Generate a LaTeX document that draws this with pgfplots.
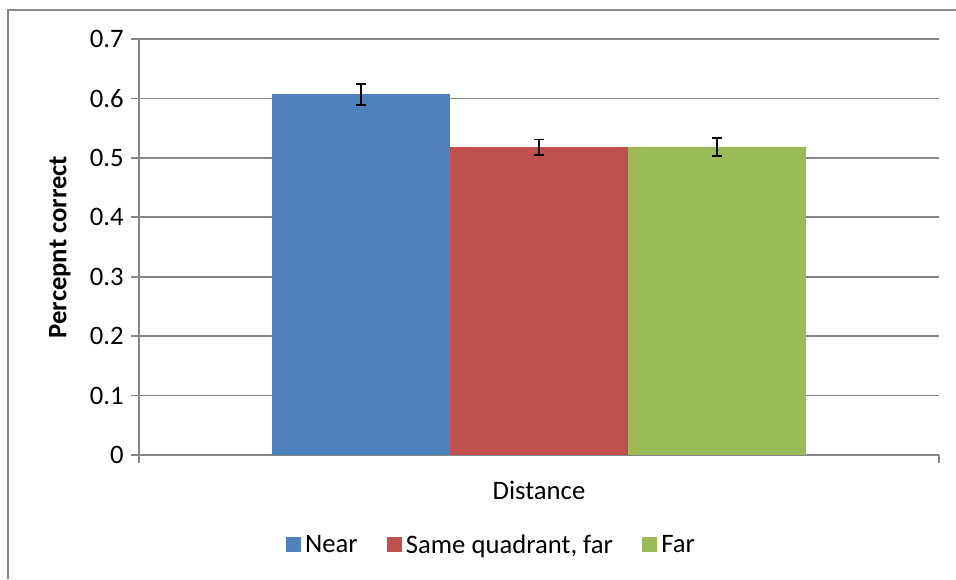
\documentclass[border=0pt]{standalone}
\usepackage{pgfplots}
\pgfplotsset{compat=1.18}
\usepackage{fontspec}
\setmainfont{Carlito}
\definecolor{cBlue}{RGB}{79,129,189}
\definecolor{cRed}{RGB}{192,80,77}
\definecolor{cGreen}{RGB}{155,187,89}
\definecolor{cGrid}{RGB}{134,134,134}
\begin{document}
\begin{tikzpicture}
\useasboundingbox (0,0) rectangle (717pt,434.25pt);
\draw[cGrid, line width=1.5pt] (6pt,0) -- (6pt,427.1pt) -- (717pt,427.1pt);
\begin{axis}[
  at={(104.25pt,93pt)}, anchor=south west,
  scale only axis, width=600pt, height=312pt,
  xmin=0, xmax=1, ymin=0, ymax=0.7,
  xtick={0,1}, xticklabels={}, 
  ytick={0,0.1,...,0.7},
  yticklabels={0,0.1,0.2,0.3,0.4,0.5,0.6,0.7},
  axis x line*=bottom, axis y line*=left,
  axis line style={cGrid, line width=1.2pt, -},
  tick style={cGrid, line width=1.2pt},
  tick align=outside, major tick length=6pt,
  ymajorgrids, grid style={cGrid, line width=1.2pt},
  font=\fontsize{20}{24}\selectfont,
  /pgf/number format/assume math mode=true,
  yticklabel style={font=\fontsize{20}{24}\selectfont, anchor=east, xshift=-2pt},
  xlabel={Distance},
  xlabel style={at={(axis description cs:0.5,-0.084)}, anchor=center},
  ylabel={\bfseries Percepnt correct},
  ylabel style={at={(axis description cs:-0.099,0.5)}, anchor=center},
  ybar, bar width=133.5pt,
  legend columns=3,
  legend style={at={(axis description cs:0.441,-0.216)}, anchor=center, draw=none,
    font=\fontsize{20}{24}\selectfont,
    /tikz/every even column/.append style={column sep=20pt},
    /tikz/every odd column/.append style={column sep=1pt}},
  legend image code/.code={\fill[#1] (0pt,-5.6pt) rectangle (11.25pt,5.6pt);},
  error bars/error bar style={black, line width=1.4pt},
  error bars/error mark options={rotate=90, mark size=4pt, line width=1.4pt, black},
]
\addplot[fill=cBlue, draw=none, bar shift=-133.5pt, error bars/.cd, y dir=both, y explicit]
  coordinates {(0.5,0.607) +- (0,0.018)};
\addplot[fill=cRed, draw=none, bar shift=0pt, error bars/.cd, y dir=both, y explicit]
  coordinates {(0.5,0.518) +- (0,0.013)};
\addplot[fill=cGreen, draw=none, bar shift=133.5pt, error bars/.cd, y dir=both, y explicit]
  coordinates {(0.5,0.518) +- (0,0.015)};
\legend{Near, {Same quadrant, far}, Far}
\end{axis}
\end{tikzpicture}
\end{document}
